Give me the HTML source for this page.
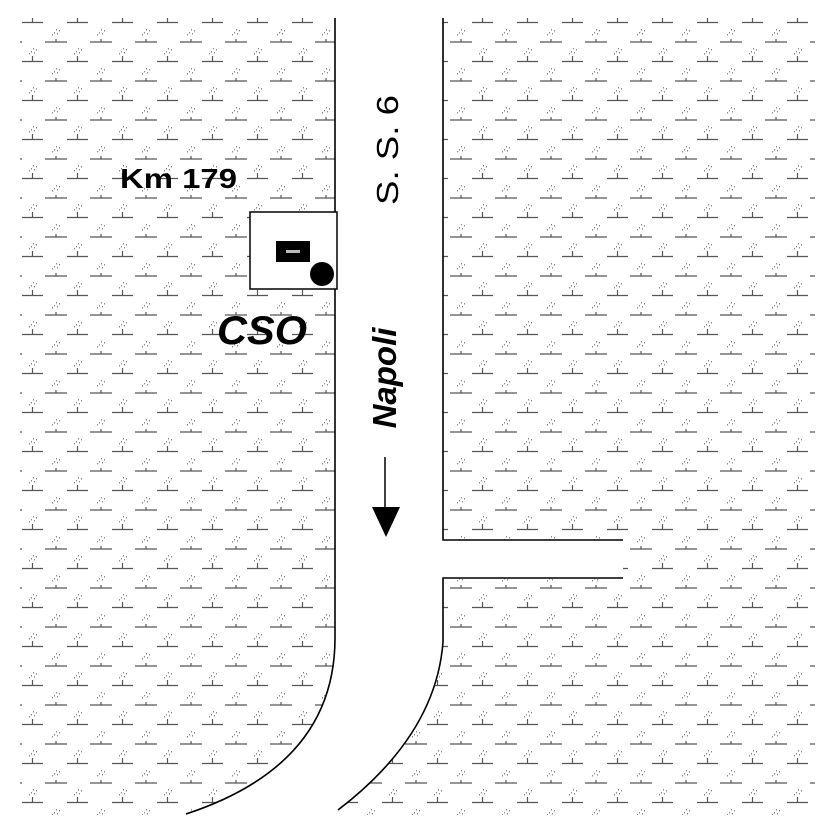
<!DOCTYPE html>
<html><head><meta charset="utf-8"><style>html,body{margin:0;padding:0;background:#fff}svg{display:block}</style></head>
<body>
<svg width="827" height="827" viewBox="0 0 827 827" xmlns="http://www.w3.org/2000/svg">
<defs>
<pattern id="g" patternUnits="userSpaceOnUse" x="0" y="0" width="45" height="39">
<g stroke="#555" stroke-width="1.2" fill="none">
<line x1="22" y1="22.5" x2="43" y2="22.5"/>
<line x1="32.5" y1="22.5" x2="32.5" y2="17"/>
<line x1="0" y1="3" x2="22" y2="3"/>
<line x1="11" y1="3" x2="11" y2="-2"/>
<line x1="45" y1="3" x2="67" y2="3"/>
</g>
<g fill="#888">
<rect x="31" y="12" width="1" height="1.5"/><rect x="34" y="13" width="1" height="1.5"/><rect x="36" y="10" width="1" height="1.5"/><rect x="29" y="14" width="1" height="1.5"/><rect x="33" y="9" width="1" height="1.5"/>
<rect x="9" y="32" width="1" height="1.5"/><rect x="12" y="33" width="1" height="1.5"/><rect x="14" y="30" width="1" height="1.5"/><rect x="7" y="34" width="1" height="1.5"/><rect x="11" y="29" width="1" height="1.5"/>
</g>
</pattern>
</defs>
<rect x="20" y="18" width="795" height="797" fill="url(#g)"/>
<path d="M335,0 L335,638 Q335,765 186,814 L186,827 L338,827 L338,810 Q436,735 443,642 L443,578 L623,578 L623,540 L443,540 L443,0 Z" fill="#fff"/>
<g stroke="#000" stroke-width="1.6" fill="none">
<path d="M335,18 L335,638 Q335,765 186,814"/>
<path d="M443,18 L443,540 L623,540"/>
<path d="M623,578 L443,578 L443,642 Q436,735 338,810"/>
</g>
<rect x="250" y="212" width="87" height="77" fill="#fff" stroke="#000" stroke-width="1.5"/>
<rect x="276" y="241" width="34" height="21" fill="#000"/>
<rect x="286" y="250" width="14" height="3" fill="#bbb"/>
<circle cx="322" cy="274" r="12" fill="#000"/>
<text x="120" y="188" textLength="117" lengthAdjust="spacingAndGlyphs" font-family="Liberation Sans, sans-serif" font-weight="bold" font-size="28" fill="#000">Km 179</text>
<text x="217" y="344" textLength="90" lengthAdjust="spacingAndGlyphs" font-family="Liberation Sans, sans-serif" font-weight="bold" font-style="italic" font-size="40" fill="#000">CSO</text>
<text transform="translate(398,150) rotate(-90)" text-anchor="middle" textLength="110" lengthAdjust="spacingAndGlyphs" font-family="Liberation Sans, sans-serif" font-size="31" fill="#000">S. S. 6</text>
<text transform="translate(396,378) rotate(-90)" text-anchor="middle" font-family="Liberation Sans, sans-serif" font-weight="bold" font-style="italic" font-size="33" fill="#000">Napoli</text>
<line x1="385" y1="457" x2="385" y2="508" stroke="#000" stroke-width="1.5"/>
<polygon points="372,507 400,507 386,537" fill="#000"/>
</svg>
</body></html>
